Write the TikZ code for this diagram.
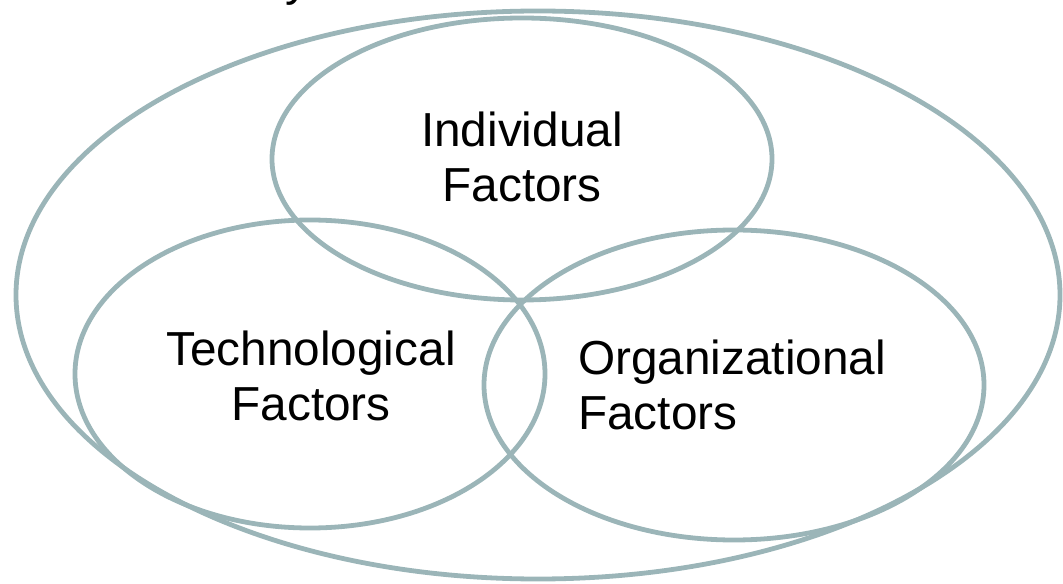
\documentclass[tikz,border=0pt]{standalone}
\usepackage{fontspec}
\setmainfont{Liberation Sans}
\begin{document}
\begin{tikzpicture}[x=0.75pt,y=-0.75pt,
  ring/.style={draw=ringcol,line width=3.6pt},
  label/.style={inner sep=0pt,font=\fontsize{35.8}{41}\selectfont}]
\definecolor{ringcol}{RGB}{155,181,184}
\useasboundingbox (0,0) rectangle (1063,584);
\clip (0,0) rectangle (1063,584);
% partly visible heading letter above the diagram
\node[label,anchor=base west,text=black] (head) at (285,-4) {y};
% outer context and the three overlapping factor sets
\draw[ring] (538,295) ellipse [x radius=522, y radius=284];
\draw[ring] (522,159) ellipse [x radius=250, y radius=141];
\draw[ring] (310,374) ellipse [x radius=235, y radius=154];
\draw[ring] (734,385) ellipse [x radius=250, y radius=155];
% labels
\node[label,align=center] (ind) at (522,157) {Individual\\Factors};
\node[label,align=center] (tech) at (311,376) {Technological\\Factors};
\node[label,align=left,anchor=west] (org) at (578,385) {Organizational\\Factors};
\end{tikzpicture}
\end{document}
